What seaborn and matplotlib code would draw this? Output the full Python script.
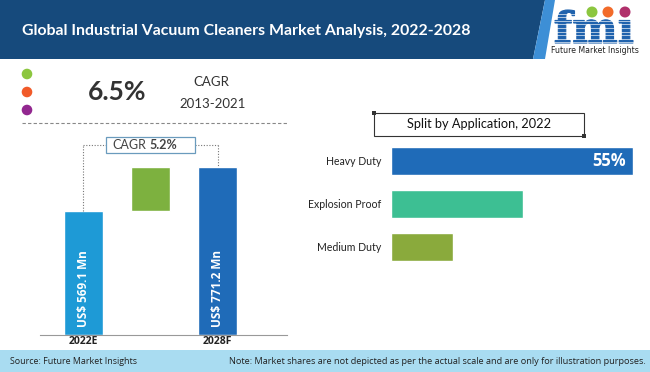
import matplotlib
matplotlib.use("Agg")
import matplotlib.pyplot as plt
import seaborn as sns
import pandas as pd
from matplotlib.patches import Rectangle, Polygon, Circle, PathPatch
from matplotlib.textpath import TextPath
from matplotlib.font_manager import FontProperties
from matplotlib.transforms import Affine2D

# ---------------- data ----------------
title = "Global Industrial Vacuum Cleaners Market Analysis, 2022-2028"
hist_cagr = "6.5%"
hist_period = "2013-2021"
wf_categories = ["2022E", "Growth", "2028F"]
wf_tick_labels = ["2022E", "", "2028F"]
market_2022 = 569.1
market_2028 = 771.2
forecast_cagr = "5.2%"
apps = ["Heavy Duty", "Explosion Proof", "Medium Duty"]
app_shares = [55, 30, 14]
split_title = "Split by Application, 2022"
source_text = "Source: Future Market Insights"
note_text = "Note: Market shares are not depicted as per the actual scale and are only for illustration purposes."

# ---------------- style ----------------
W, H = 650, 372
sns.set_theme(style="white")
plt.rcParams["font.family"] = ["Open Sans", "DejaVu Sans"]

fig = plt.figure(figsize=(W / 100, H / 100), dpi=100)
bg = fig.add_axes([0, 0, 1, 1])
bg.set_xlim(0, W)
bg.set_ylim(H, 0)
bg.axis("off")

def px_axes(x0, y0, x1, y1):
    return fig.add_axes([x0 / W, 1 - y1 / H, (x1 - x0) / W, (y1 - y0) / H])

# header
bg.add_patch(Polygon([(0, 0), (545, 0), (533, 59), (0, 59)], closed=True,
                     facecolor="#164a7c", edgecolor="none"))
bg.add_patch(Polygon([(545, 0), (555, 0), (545, 59), (533, 59)], closed=True,
                     facecolor="#3d8fd6", edgecolor="none"))
bg.text(22, 35, title, color="white", fontsize=11.4, fontweight="bold",
        va="baseline", ha="left", family=["Lato", "DejaVu Sans"])

# logo
fp = FontProperties(family="DejaVu Serif", weight="bold")
tp = TextPath((0, 0), "fm\u0131", size=1, prop=fp)
bb = tp.get_extents()
tr = Affine2D().translate(-bb.x0, -bb.y0).scale(78 / bb.width, -33 / bb.height).translate(555, 43)
bg.add_patch(PathPatch(tr.transform_path(tp), facecolor="#1f62ad", edgecolor="#1f62ad", lw=0.8))
for k in range(9):
    yy = 13.5 + k * 3.6
    bg.plot([553, 640], [yy, yy], color="white", lw=0.45)
for cx, col in zip([592, 608, 625], ["#8cc63f", "#f26b2a", "#b0306b"]):
    bg.add_patch(Circle((cx, 12), 5.5, facecolor=col, edgecolor="none", zorder=3))
bg.text(595, 50.5, "Future Market Insights", color="#222222", fontsize=5.6,
        ha="center", va="center", family=["Liberation Sans Narrow", "DejaVu Sans"])

# left top panel
for cy, col in zip([74, 92, 110], ["#8cc63f", "#f15a29", "#92278f"]):
    bg.add_patch(Circle((27, cy), 5.3, facecolor=col, edgecolor="none"))
bg.text(117, 92, hist_cagr, fontsize=19, fontweight="bold", color="#333333",
        ha="center", va="center", family=["Lato", "DejaVu Sans"])
bg.text(211, 82, "CAGR", fontsize=9.5, color="#333333", ha="center", va="center",
        family=["Lato", "DejaVu Sans"])
bg.text(213, 104, hist_period, fontsize=9.5, color="#333333", ha="center",
        va="center", family=["Lato", "DejaVu Sans"])
bg.plot([22, 287], [123, 123], color="#888888", lw=0.8, ls=(0, (3, 2)))

# ---------------- waterfall ----------------
ax = px_axes(40, 130, 287, 335)
ax.patch.set_alpha(0)
wf_df = pd.DataFrame({"cat": ["2022E", "2028F"], "val": [market_2022, market_2028]})
sns.barplot(data=wf_df, x="cat", y="val", order=wf_categories, hue="cat",
            palette={"2022E": "#1e9ad6", "2028F": "#1f6bb8"}, legend=False,
            width=0.58, ax=ax, saturation=1)
gap_df = pd.DataFrame({"cat": ["Growth"], "val": [market_2028 - market_2022]})
sns.barplot(data=gap_df, x="cat", y="val", order=wf_categories, color="#7db13f",
            width=0.58, ax=ax, saturation=1, bottom=market_2022)
ax.set_xlim(-0.649, 3.037)
ax.set_ylim(0, 942)
ax.set_xlabel("")
ax.set_ylabel("")
ax.set_yticks([])
ax.set_xticks(range(len(wf_categories)))
ax.set_xticklabels(wf_tick_labels, fontsize=7.5, fontweight="bold", color="#222222")
ax.tick_params(axis="x", length=0, pad=1)
for s in ["top", "right", "left"]:
    ax.spines[s].set_visible(False)
ax.spines["bottom"].set_color("#999999")
ax.spines["bottom"].set_linewidth(0.8)

for i, v in [(0, market_2022), (2, market_2028)]:
    ax.text(i, 36, f"US$ {v:.1f} Mn", rotation=90, color="white", fontsize=8.5,
            fontweight="bold", ha="center", va="bottom")

level = market_2028 * 1.13
dot = dict(color="#777777", lw=0.8, ls=(0, (1, 1.5)))
box_half_w = 44 / 67
ax.plot([0, 0], [market_2022, level], **dot)
ax.plot([0, 1 - box_half_w], [level, level], **dot)
ax.plot([1 + box_half_w, 2], [level, level], **dot)
ax.plot([2, 2], [level, market_2028], **dot)
bh = 8 / 0.2175
ax.add_patch(Rectangle((1 - box_half_w, level - bh), 2 * box_half_w, 2 * bh,
                       facecolor="white", edgecolor="#6a9bbd", lw=0.9,
                       clip_on=False, zorder=3))
ax.text(0.94, level, "CAGR", fontsize=9, color="#444444", ha="right",
        va="center", zorder=4, family=["Lato", "DejaVu Sans"])
ax.text(0.98, level, forecast_cagr, fontsize=9, color="#444444", ha="left",
        va="center", fontweight="bold", zorder=4, family=["Lato", "DejaVu Sans"])

# ---------------- split by application ----------------
bg.add_patch(Rectangle((374, 113), 210, 23, facecolor="none", edgecolor="#333333", lw=0.8))
bg.add_patch(Rectangle((372, 111), 4, 4, facecolor="#333333", edgecolor="none"))
bg.add_patch(Rectangle((582, 134), 4, 4, facecolor="#333333", edgecolor="none"))
bg.text(479, 124.5, split_title, fontsize=9.2, color="#111111", ha="center",
        va="center", family=["Lato", "DejaVu Sans"])

ax2 = px_axes(391, 140, 640, 270)
ax2.patch.set_alpha(0)
app_df = pd.DataFrame({"app": apps, "share": app_shares})
sns.barplot(data=app_df, y="app", x="share", hue="app", orient="h",
            palette=["#1f6bb8", "#3dbf93", "#8aaa3c"], legend=False,
            width=0.65, ax=ax2, saturation=1)
ax2.set_xlim(0, 56.6)
ax2.set_ylim(2.535, -0.488)
ax2.set_xlabel("")
ax2.set_ylabel("")
ax2.set_xticks([])
ax2.tick_params(axis="y", length=0, pad=7)
for lab in ax2.get_yticklabels():
    lab.set_fontsize(7.6)
    lab.set_color("#222222")
    lab.set_family(["Lato", "DejaVu Sans"])
for s in ["top", "right", "left", "bottom"]:
    ax2.spines[s].set_visible(False)
ax2.text(app_shares[0] - 1.6, 0, f"{app_shares[0]}%", color="white", fontsize=12,
         fontweight="bold", ha="right", va="center")

# ---------------- footer ----------------
bg.add_patch(Rectangle((0, 350), W, 22, facecolor="#a9dcf1", edgecolor="none"))
bg.text(10, 361, source_text, fontsize=6.4, color="#222222", ha="left", va="center")
bg.text(646, 361, note_text, fontsize=6.6, color="#222222", ha="right", va="center")

fig.savefig("out.png", dpi=100)
